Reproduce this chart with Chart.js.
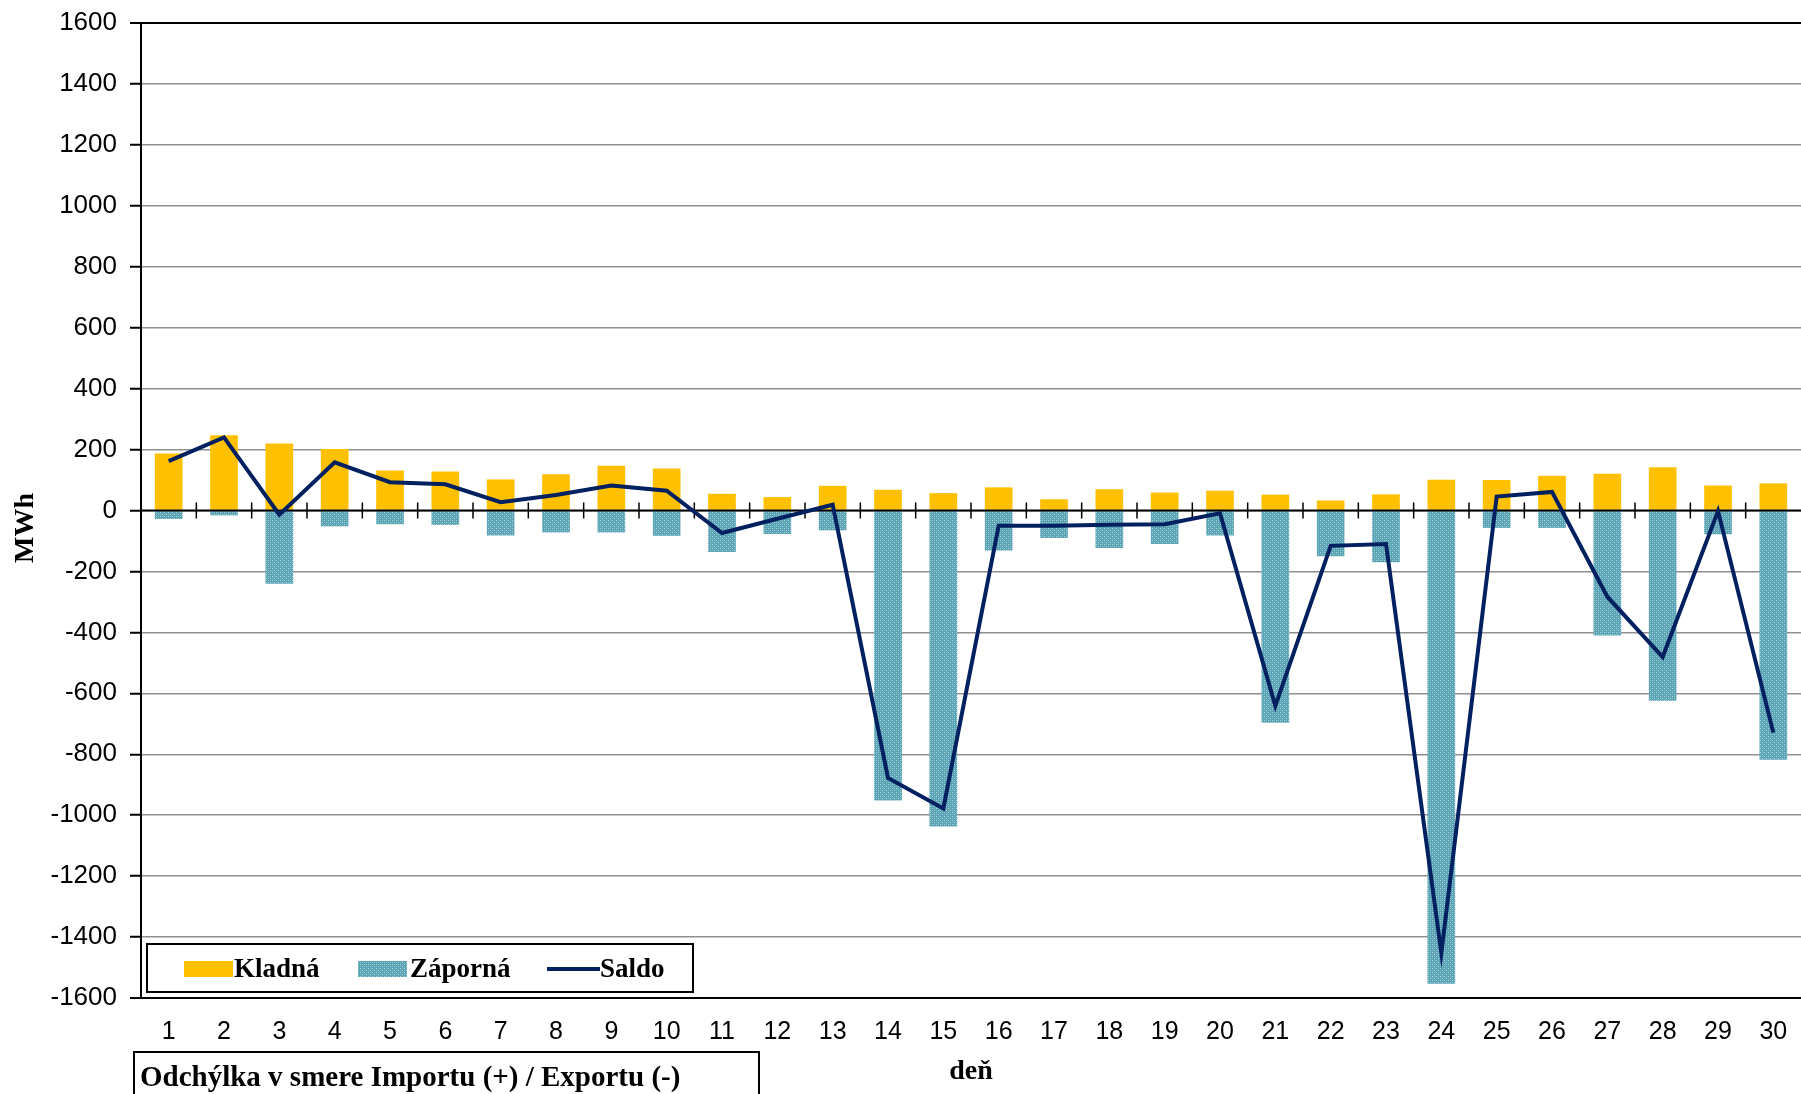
<!DOCTYPE html>
<html>
<head>
<meta charset="utf-8">
<script src="https://cdn.jsdelivr.net/npm/chart.js@4/dist/chart.umd.min.js"></script>
<style>
  html, body { margin: 0; padding: 0; background: #fff; }
  #wrap { width: 1801px; height: 1094px; }
</style>
</head>
<body>
<div id="wrap"><canvas id="chart" width="1801" height="1094"></canvas></div>
<script>
  // days of the month
  const days = ['1', '2', '3', '4', '5', '6', '7', '8', '9', '10', '11', '12', '13', '14', '15',
    '16', '17', '18', '19', '20', '21', '22', '23', '24', '25', '26', '27', '28', '29', '30'];

  // MWh
  const kladna = [187, 247, 220, 202, 131, 128, 102, 119, 147, 138, 55, 44, 81, 68, 57,
    76, 37, 70, 59, 65, 52, 33, 53, 101, 100, 114, 121, 142, 82, 89];
  const zaporna = [-28, -16, -240, -52, -45, -47, -82, -72, -72, -83, -136, -77, -65, -952, -1037,
    -131, -90, -123, -110, -82, -697, -150, -170, -1553, -57, -57, -410, -624, -78, -818];
  const saldo = [162, 240, -14, 158, 93, 86, 27, 51, 82, 65, -74, -27, 19, -878, -978,
    -50, -50, -47, -45, -9, -641, -116, -110, -1452, 46, 61, -283, -481, -2, -729];

  const seriesLabels = ['Kladná', 'Záporná', 'Saldo'];
  const yTicks = { min: -1600, max: 1600, step: 200 };
  const yTitle = 'MWh';
  const xTitle = 'deň';
  const note = 'Odchýlka v smere Importu (+) / Exportu (-)';

  const YELLOW = '#FFC000';
  const NAVY = '#002060';
  const SERIF = '"Liberation Serif", "Times New Roman", serif';
  const SANS = '"Liberation Sans", Arial, sans-serif';

  // dotted teal fill like the Excel pattern
  function tealPattern() {
    const c = document.createElement('canvas');
    c.width = 4; c.height = 4;
    const g = c.getContext('2d');
    g.fillStyle = '#5aa3b4';
    g.fillRect(0, 0, 4, 4);
    g.fillStyle = '#a9d3dd';
    g.fillRect(0, 0, 1, 1);
    g.fillRect(2, 2, 1, 1);
    g.fillStyle = '#7dbac8';
    g.fillRect(2, 0, 1, 1);
    g.fillRect(0, 2, 1, 1);
    return g.createPattern(c, 'repeat');
  }
  const TEAL = tealPattern();

  // black axis line at 0 with category tick marks, under the Saldo line
  const zeroAxis = {
    id: 'zeroAxis',
    beforeDatasetDraw(chart, args) {
      if (chart.data.datasets[args.index].type !== 'line') return;
      const { ctx, chartArea, scales: { x, y } } = chart;
      const y0 = y.getPixelForValue(0);
      ctx.save();
      ctx.strokeStyle = '#000';
      ctx.lineWidth = 2;
      ctx.beginPath();
      ctx.moveTo(chartArea.left, y0);
      ctx.lineTo(chartArea.right, y0);
      ctx.stroke();
      ctx.lineWidth = 1.5;
      ctx.beginPath();
      for (let i = 0; i < days.length - 1; i++) {
        const xm = (x.getPixelForValue(i) + x.getPixelForValue(i + 1)) / 2;
        ctx.moveTo(xm, y0 - 8);
        ctx.lineTo(xm, y0 + 8);
      }
      ctx.stroke();
      ctx.restore();
    }
  };

  // boxed legend inside the plot, y title, and the boxed note under the axis
  const boxes = {
    id: 'boxes',
    afterDraw(chart) {
      const { ctx } = chart;
      const ds = seriesLabels.map((l) => chart.data.datasets.find((d) => d.label === l));
      ctx.save();
      ctx.fillStyle = '#fff';
      ctx.fillRect(147, 944, 546, 48);
      ctx.strokeStyle = '#000';
      ctx.lineWidth = 2;
      ctx.strokeRect(147, 944, 546, 48);

      const items = [
        { sx: 184, tx: 234 },
        { sx: 358, tx: 410 },
        { sx: 547, tx: 600 }
      ];
      ctx.font = 'bold 27px ' + SERIF;
      ctx.textBaseline = 'middle';
      ds.forEach((d, i) => {
        const it = items[i];
        if (d.type === 'line') {
          ctx.strokeStyle = d.borderColor;
          ctx.lineWidth = 4;
          ctx.beginPath();
          ctx.moveTo(it.sx, 969);
          ctx.lineTo(it.sx + 53, 969);
          ctx.stroke();
        } else {
          ctx.fillStyle = d.backgroundColor;
          ctx.fillRect(it.sx, 961, 49, 16);
        }
        ctx.fillStyle = '#000';
        ctx.fillText(d.label, it.tx, 970);
      });

      // y axis title
      ctx.save();
      ctx.translate(26, 528);
      ctx.rotate(-Math.PI / 2);
      ctx.textAlign = 'center';
      ctx.textBaseline = 'middle';
      ctx.font = 'bold 28px ' + SERIF;
      ctx.fillText(yTitle, 0, 0);
      ctx.restore();

      ctx.strokeStyle = '#000';
      ctx.lineWidth = 2;
      ctx.strokeRect(134, 1052, 625, 60);
      ctx.font = 'bold 29px ' + SERIF;
      ctx.textBaseline = 'alphabetic';
      ctx.fillStyle = '#000';
      ctx.fillText(note, 140, 1086);
      ctx.restore();
    }
  };

  const isEdge = (v) => v === yTicks.max || v === yTicks.min;

  new Chart(document.getElementById('chart'), {
    data: {
      labels: days,
      datasets: [
        { type: 'line', label: seriesLabels[2], data: saldo, borderColor: NAVY, borderWidth: 4,
          pointRadius: 0, tension: 0, stack: 'saldo', order: 0 },
        { type: 'bar', label: seriesLabels[0], data: kladna, backgroundColor: YELLOW,
          barPercentage: 0.5, categoryPercentage: 1, stack: 'odch', order: 1 },
        { type: 'bar', label: seriesLabels[1], data: zaporna, backgroundColor: TEAL,
          barPercentage: 0.5, categoryPercentage: 1, stack: 'odch', order: 1 }
      ]
    },
    options: {
      responsive: false,
      animation: false,
      devicePixelRatio: 1,
      layout: { padding: { top: 23, right: 0, left: 0, bottom: 0 } },
      plugins: { legend: { display: false }, tooltip: { enabled: false } },
      scales: {
        x: {
          stacked: true,
          grid: { display: false },
          border: { display: true, color: '#000', width: 2 },
          ticks: { color: '#000', font: { family: SANS, size: 25 }, padding: 11, maxRotation: 0, autoSkip: false },
          title: { display: true, text: xTitle, color: '#000', font: { family: SERIF, size: 28, weight: 'bold' }, padding: { top: 0, bottom: 5 } },
          afterFit(s) { s.height = 96; }
        },
        y: {
          stacked: true,
          min: yTicks.min,
          max: yTicks.max,
          ticks: { stepSize: yTicks.step, color: '#000', font: { family: SANS, size: 26, lineHeight: 1 }, padding: 13,
            callback: (v) => String(v) },
          grid: {
            color: (c) => isEdge(c.tick.value) ? '#000' : '#8f8f8f',
            lineWidth: (c) => isEdge(c.tick.value) ? 2 : 1.5,
            tickColor: '#000',
            tickWidth: 2,
            tickLength: 11
          },
          border: { display: true, color: '#000', width: 2 },
          afterFit(s) { s.width = 141; s.paddingTop = 0; }
        }
      }
    },
    plugins: [zeroAxis, boxes]
  });
</script>
</body>
</html>
